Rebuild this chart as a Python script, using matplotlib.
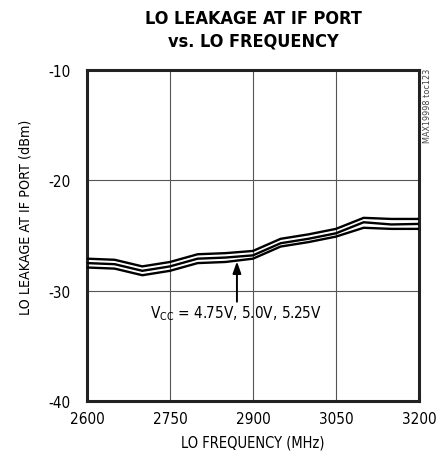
import matplotlib
matplotlib.use("Agg")
import matplotlib.pyplot as plt

plt.rcParams['font.family'] = ['DejaVu Sans']
plt.rcParams['font.stretch'] = 'condensed'
plt.rcParams['mathtext.fontset'] = 'custom'
plt.rcParams['mathtext.rm'] = 'DejaVu Sans:stretch=condensed'

freq = [2600, 2650, 2700, 2750, 2800, 2850, 2900, 2950, 3000, 3050, 3100, 3150, 3200]
leak_a = [-27.1, -27.2, -27.8, -27.4, -26.7, -26.6, -26.4, -25.3, -24.9, -24.4, -23.4, -23.5, -23.5]
leak_b = [-27.5, -27.6, -28.2, -27.8, -27.1, -27.0, -26.8, -25.7, -25.3, -24.8, -23.8, -24.0, -23.95]
leak_c = [-27.9, -28.0, -28.6, -28.2, -27.5, -27.4, -27.1, -26.0, -25.6, -25.1, -24.3, -24.4, -24.4]

xticks = [2600, 2750, 2900, 3050, 3200]
yticks = [-40, -30, -20, -10]

fig = plt.figure(figsize=(4.47, 4.64), dpi=100)
ax = fig.add_axes([0.1946, 0.1336, 0.7427, 0.7134])

for s in (leak_a, leak_b, leak_c):
    ax.plot(freq, s, color='black', lw=1.7, solid_joinstyle='round', solid_capstyle='butt', zorder=3)

ax.set_xlim(2600, 3200)
ax.set_ylim(-40, -10)
ax.set_xticks(xticks)
ax.set_yticks(yticks)
ax.set_xticklabels([str(v) for v in xticks])
ax.set_yticklabels([str(v) for v in yticks])
ax.tick_params(length=0, labelsize=11, pad=7)
ax.tick_params(axis='y', pad=12)
ax.grid(True, color='#555555', lw=0.8)
ax.set_axisbelow(True)
for sp in ax.spines.values():
    sp.set_linewidth(2.2)
    sp.set_color('#222222')

ax.set_xlabel('LO FREQUENCY (MHz)', fontsize=10.5, labelpad=6)
ax.set_ylabel('LO LEAKAGE AT IF PORT (dBm)', fontsize=10.3)
ax.yaxis.set_label_coords(-0.165, 0.559)

ax.annotate('', xy=(2871, -27.35), xytext=(2871, -31.0),
            arrowprops=dict(arrowstyle='-|>,head_length=0.7,head_width=0.25',
                            color='black', lw=1.4, shrinkA=0, shrinkB=0))
ax.text(2870, -31.15, r'V$_{\mathrm{CC}}$ = 4.75V, 5.0V, 5.25V', ha='center', va='top', fontsize=11)

fig.text(253 / 447, 1 - 30 / 464, 'LO LEAKAGE AT IF PORT\nvs. LO FREQUENCY', ha='center', va='center',
         fontsize=13, fontweight='bold', linespacing=1.35)
fig.text(427 / 447, 1 - 69 / 464, 'MAX19998 toc123', rotation=90, ha='center', va='top',
         fontsize=6.5, color='#444444')

fig.savefig('out.png', dpi=100)
